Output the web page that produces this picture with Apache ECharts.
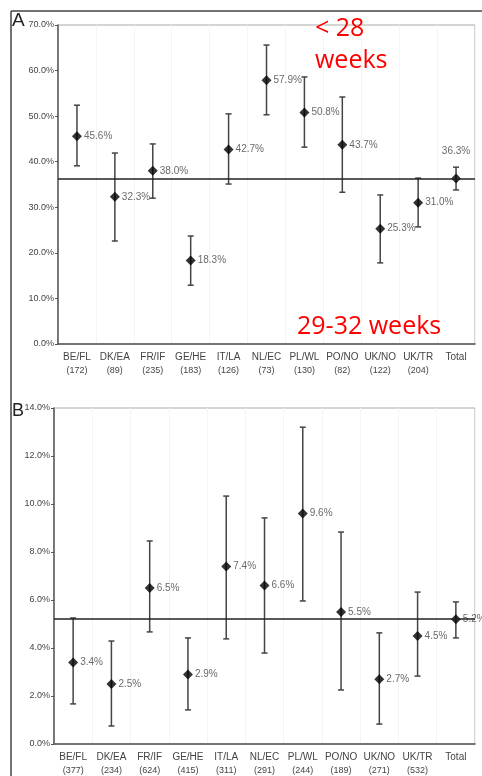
<!DOCTYPE html>
<html>
<head>
<meta charset="utf-8">
<script src="https://cdn.jsdelivr.net/npm/echarts@6/dist/echarts.min.js"></script>
<style>
  html, body { margin: 0; padding: 0; background: #fff; }
  #chart { width: 482px; height: 776px; }
</style>
</head>
<body>
<div id="chart"></div>
<script>
const categories = ['BE/FL', 'DK/EA', 'FR/IF', 'GE/HE', 'IT/LA', 'NL/EC', 'PL/WL', 'PO/NO', 'UK/NO', 'UK/TR', 'Total']

// panel A: < 28 weeks
const countsA = ['172', '89', '235', '183', '126', '73', '130', '82', '122', '204', '']
const rateA = [45.6, 32.3, 38.0, 18.3, 42.7, 57.9, 50.8, 43.7, 25.3, 31.0, 36.3]
const lowA = [39.1, 22.6, 32.0, 12.9, 35.1, 50.3, 43.2, 33.3, 17.8, 25.7, 33.8]
const highA = [52.4, 41.9, 43.9, 23.7, 50.5, 65.6, 58.6, 54.2, 32.7, 36.4, 38.8]

// panel B: 29-32 weeks
const countsB = ['377', '234', '624', '415', '311', '291', '244', '189', '271', '532', '']
const rateB = [3.4, 2.5, 6.5, 2.9, 7.4, 6.6, 9.6, 5.5, 2.7, 4.5, 5.2]
const lowB = [1.67, 0.75, 4.67, 1.42, 4.38, 3.79, 5.96, 2.25, 0.83, 2.83, 4.42]
const highB = [5.25, 4.29, 8.46, 4.42, 10.33, 9.42, 13.2, 8.83, 4.63, 6.33, 5.92]

const axisA = { min: 0, max: 70, interval: 10 }
const axisB = { min: 0, max: 14, interval: 2 }

const FONT = '"Liberation Sans", Arial, sans-serif'
const AXIS_COLOR = '#555'
const TEXT_COLOR = '#444'

function xAxisFor(gridIndex, counts) {
  return {
    type: 'category',
    gridIndex,
    data: categories,
    axisLine: { lineStyle: { color: AXIS_COLOR, width: 1.5 } },
    axisTick: { length: 4, lineStyle: { color: AXIS_COLOR, width: 1.2 } },
    splitLine: { show: true, lineStyle: { color: '#f4f4f4', width: 1 } },
    axisLabel: {
      interval: 0,
      margin: 6,
      fontFamily: FONT,
      formatter: (value, idx) => counts[idx] ? `{a|${value}}\n{b|(${counts[idx]})}` : `{a|${value}}`,
      rich: {
        a: { fontSize: 10, color: TEXT_COLOR, fontFamily: FONT, lineHeight: 14 },
        b: { fontSize: 9, color: TEXT_COLOR, fontFamily: FONT, lineHeight: 13 }
      }
    }
  }
}

function yAxisFor(gridIndex, range) {
  return {
    type: 'value',
    gridIndex,
    min: range.min,
    max: range.max,
    interval: range.interval,
    axisLine: { show: true, lineStyle: { color: AXIS_COLOR, width: 1.5 } },
    axisTick: { show: true, length: 3, lineStyle: { color: AXIS_COLOR } },
    splitLine: { show: false },
    axisLabel: {
      margin: 4,
      fontSize: 9,
      color: TEXT_COLOR,
      fontFamily: FONT,
      formatter: (v) => v.toFixed(1) + '%'
    }
  }
}

function errorBars(axisIndex, lows, highs) {
  return {
    type: 'custom',
    xAxisIndex: axisIndex,
    yAxisIndex: axisIndex,
    silent: true,
    z: 2,
    data: lows.map((lo, i) => [i, lo, highs[i]]),
    renderItem: (params, api) => {
      const top = api.coord([api.value(0), api.value(2)])
      const bottom = api.coord([api.value(0), api.value(1)])
      const style = { stroke: '#444', lineWidth: 1.5 }
      return {
        type: 'group',
        children: [
          { type: 'line', shape: { x1: top[0], y1: top[1], x2: bottom[0], y2: bottom[1] }, style },
          { type: 'line', shape: { x1: top[0] - 3, y1: top[1], x2: top[0] + 3, y2: top[1] }, style },
          { type: 'line', shape: { x1: bottom[0] - 3, y1: bottom[1], x2: bottom[0] + 3, y2: bottom[1] }, style }
        ]
      }
    }
  }
}

function points(axisIndex, rates) {
  const total = rates[rates.length - 1]
  return {
    type: 'scatter',
    xAxisIndex: axisIndex,
    yAxisIndex: axisIndex,
    symbol: 'diamond',
    symbolSize: 10,
    z: 4,
    itemStyle: { color: '#000' },
    data: rates.map((r, i) => {
      const item = { value: [i, r] }
      if (axisIndex === 0 && i === rates.length - 1) {
        item.label = { position: 'top', distance: 17 }
      }
      return item
    }),
    label: {
      show: true,
      position: 'right',
      distance: 2,
      fontSize: 10,
      color: TEXT_COLOR,
      fontFamily: FONT,
      formatter: (p) => p.value[1].toFixed(1) + '%'
    },
    markLine: {
      silent: true,
      symbol: 'none',
      label: { show: false },
      lineStyle: { color: '#222', width: 1.5, type: 'solid' },
      data: [{ yAxis: total }]
    }
  }
}

const chart = echarts.init(document.getElementById('chart'), null, { renderer: 'canvas' })

chart.setOption({
  animation: false,
  grid: [
    { left: 58, top: 25, right: 7, height: 319, show: true, borderColor: '#aaa', borderWidth: 1 },
    { left: 54, top: 408, right: 7, height: 336, show: true, borderColor: '#aaa', borderWidth: 1 }
  ],
  xAxis: [xAxisFor(0, countsA), xAxisFor(1, countsB)],
  yAxis: [yAxisFor(0, axisA), yAxisFor(1, axisB)],
  series: [
    errorBars(0, lowA, highA),
    points(0, rateA),
    errorBars(1, lowB, highB),
    points(1, rateB)
  ],
  graphic: [
    { type: 'line', z: 100, shape: { x1: 11, y1: 11, x2: 482, y2: 11 }, style: { stroke: '#444', lineWidth: 1.5 } },
    { type: 'line', z: 100, shape: { x1: 11, y1: 11, x2: 11, y2: 776 }, style: { stroke: '#444', lineWidth: 1.5 } },
    { type: 'text', z: 100, left: 12, top: 11, style: { text: 'A', fontSize: 19, fontFamily: FONT, fill: '#222' } },
    { type: 'text', z: 100, left: 12, top: 402, style: { text: 'B', fontSize: 18, fontFamily: FONT, fill: '#222' } },
    { type: 'text', z: 100, left: 315, top: 13, style: { text: '< 28\nweeks', fontSize: 25, lineHeight: 32, fontFamily: '"Open Sans", sans-serif', fill: '#ff0000' } },
    { type: 'text', z: 100, left: 297, top: 314, style: { text: '29-32 weeks', fontSize: 25, fontFamily: '"Open Sans", sans-serif', fill: '#ff0000' } }
  ]
})
</script>
</body>
</html>
